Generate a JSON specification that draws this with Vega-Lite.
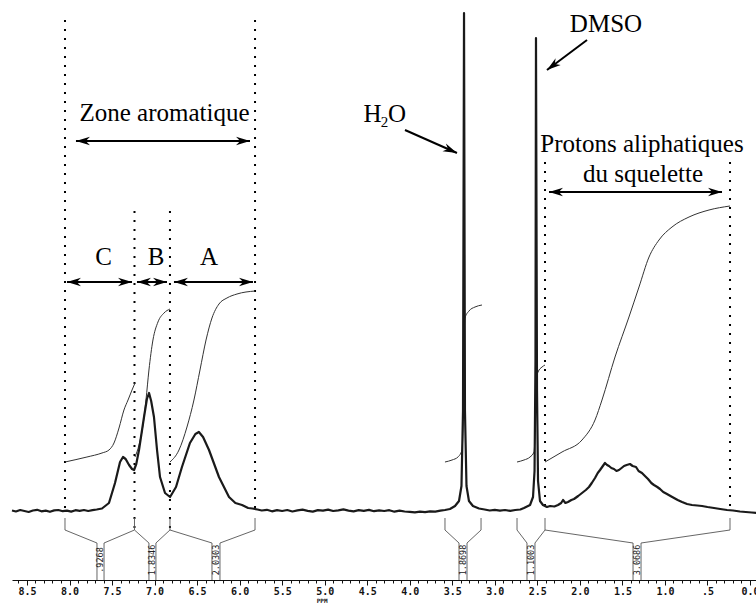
{
  "$schema": "https://vega.github.io/schema/vega-lite/v6.json",
  "width": 746,
  "height": 580,
  "padding": {"left": 10, "top": 0, "right": 0, "bottom": 0},
  "background": "white",
  "config": {"view": {"stroke": null}},
  "datasets": {
    "spectrum": [
      {"x": 8.676, "y": 0.5}, {"x": 8.63, "y": -0.5}, {"x": 8.58, "y": 1.0}, {"x": 8.53, "y": 0.0}, {"x": 8.48, "y": -1.0},
      {"x": 8.43, "y": 0.5}, {"x": 8.38, "y": 1.2}, {"x": 8.33, "y": -0.3}, {"x": 8.28, "y": 0.4}, {"x": 8.23, "y": -0.8},
      {"x": 8.18, "y": 0.6}, {"x": 8.13, "y": 1.0}, {"x": 8.08, "y": -0.2}, {"x": 8.03, "y": 0.3}, {"x": 7.98, "y": -0.6},
      {"x": 7.93, "y": 0.8}, {"x": 7.88, "y": 0.2}, {"x": 7.83, "y": 1.0}, {"x": 7.78, "y": 0.0}, {"x": 7.73, "y": 0.8},
      {"x": 7.68, "y": 1.5}, {"x": 7.618, "y": 2.5}, {"x": 7.536, "y": 8}, {"x": 7.465, "y": 28}, {"x": 7.406, "y": 49},
      {"x": 7.371, "y": 54}, {"x": 7.34, "y": 52}, {"x": 7.3, "y": 46}, {"x": 7.265, "y": 42}, {"x": 7.241, "y": 41},
      {"x": 7.215, "y": 47}, {"x": 7.183, "y": 61}, {"x": 7.124, "y": 94}, {"x": 7.09, "y": 112}, {"x": 7.065, "y": 118},
      {"x": 7.04, "y": 110}, {"x": 7.007, "y": 94}, {"x": 6.971, "y": 61}, {"x": 6.936, "y": 34}, {"x": 6.877, "y": 18},
      {"x": 6.818, "y": 14}, {"x": 6.748, "y": 24}, {"x": 6.678, "y": 44}, {"x": 6.584, "y": 68}, {"x": 6.52, "y": 77},
      {"x": 6.479, "y": 79}, {"x": 6.43, "y": 74}, {"x": 6.36, "y": 61}, {"x": 6.243, "y": 34}, {"x": 6.125, "y": 14},
      {"x": 6.05, "y": 8}, {"x": 5.972, "y": 6}, {"x": 5.9, "y": 3}, {"x": 5.85, "y": 2.5}, {"x": 5.79, "y": 1.5},
      {"x": 5.74, "y": 0.5}, {"x": 5.68, "y": 1.2}, {"x": 5.62, "y": -0.3}, {"x": 5.56, "y": 0.8}, {"x": 5.5, "y": 0.0},
      {"x": 5.44, "y": 1.0}, {"x": 5.38, "y": -0.5}, {"x": 5.32, "y": 0.6}, {"x": 5.26, "y": 1.3}, {"x": 5.2, "y": 0.2},
      {"x": 5.14, "y": -0.6}, {"x": 5.08, "y": 0.9}, {"x": 5.02, "y": 0.3}, {"x": 4.96, "y": 1.4}, {"x": 4.9, "y": 0.0},
      {"x": 4.84, "y": 0.7}, {"x": 4.78, "y": 1.6}, {"x": 4.72, "y": 0.4}, {"x": 4.66, "y": -0.4}, {"x": 4.6, "y": 0.9},
      {"x": 4.54, "y": 0.2}, {"x": 4.48, "y": 1.1}, {"x": 4.42, "y": -0.2}, {"x": 4.36, "y": 0.6}, {"x": 4.3, "y": 0.0},
      {"x": 4.24, "y": 0.8}, {"x": 4.18, "y": -0.7}, {"x": 4.12, "y": 0.3}, {"x": 4.06, "y": -0.5}, {"x": 4.0, "y": -0.8},
      {"x": 3.94, "y": -1.4}, {"x": 3.88, "y": -0.6}, {"x": 3.82, "y": -1.2}, {"x": 3.76, "y": -0.3}, {"x": 3.7, "y": -0.6},
      {"x": 3.64, "y": 0.3}, {"x": 3.586, "y": 1}, {"x": 3.527, "y": 2}, {"x": 3.468, "y": 5}, {"x": 3.421, "y": 10},
      {"x": 3.392, "y": 25}, {"x": 3.374, "y": 100}, {"x": 3.362, "y": 498}, {"x": 3.351, "y": 100}, {"x": 3.333, "y": 25},
      {"x": 3.304, "y": 10}, {"x": 3.257, "y": 5}, {"x": 3.186, "y": 2.5}, {"x": 3.12, "y": 1.5}, {"x": 3.06, "y": 0.5},
      {"x": 3.0, "y": 1.2}, {"x": 2.94, "y": 0.4}, {"x": 2.88, "y": 1.0}, {"x": 2.82, "y": 0.2}, {"x": 2.76, "y": 1.0},
      {"x": 2.7, "y": 1.5}, {"x": 2.657, "y": 3}, {"x": 2.586, "y": 6}, {"x": 2.551, "y": 14}, {"x": 2.533, "y": 40},
      {"x": 2.522, "y": 150}, {"x": 2.516, "y": 473}, {"x": 2.504, "y": 120}, {"x": 2.492, "y": 30}, {"x": 2.469, "y": 10},
      {"x": 2.434, "y": 6}, {"x": 2.387, "y": 4}, {"x": 2.35, "y": 5}, {"x": 2.3, "y": 4.5}, {"x": 2.257, "y": 6},
      {"x": 2.22, "y": 8}, {"x": 2.198, "y": 11}, {"x": 2.17, "y": 8}, {"x": 2.14, "y": 9}, {"x": 2.1, "y": 11},
      {"x": 2.069, "y": 12}, {"x": 2.02, "y": 15}, {"x": 1.975, "y": 18}, {"x": 1.93, "y": 21}, {"x": 1.893, "y": 24},
      {"x": 1.86, "y": 28}, {"x": 1.822, "y": 33}, {"x": 1.79, "y": 38}, {"x": 1.763, "y": 41}, {"x": 1.73, "y": 45},
      {"x": 1.705, "y": 48}, {"x": 1.68, "y": 46}, {"x": 1.658, "y": 45}, {"x": 1.63, "y": 43}, {"x": 1.599, "y": 42},
      {"x": 1.57, "y": 40}, {"x": 1.54, "y": 41}, {"x": 1.51, "y": 43}, {"x": 1.481, "y": 45}, {"x": 1.45, "y": 46},
      {"x": 1.411, "y": 47}, {"x": 1.38, "y": 45}, {"x": 1.34, "y": 44}, {"x": 1.31, "y": 40}, {"x": 1.27, "y": 38},
      {"x": 1.235, "y": 35}, {"x": 1.199, "y": 32}, {"x": 1.16, "y": 28}, {"x": 1.129, "y": 26}, {"x": 1.09, "y": 24},
      {"x": 1.058, "y": 22}, {"x": 1.02, "y": 19}, {"x": 0.976, "y": 17}, {"x": 0.935, "y": 15}, {"x": 0.893, "y": 13},
      {"x": 0.85, "y": 11}, {"x": 0.799, "y": 9}, {"x": 0.74, "y": 7}, {"x": 0.682, "y": 6}, {"x": 0.62, "y": 5.5},
      {"x": 0.564, "y": 5}, {"x": 0.5, "y": 4}, {"x": 0.423, "y": 3}, {"x": 0.35, "y": 2}, {"x": 0.27, "y": 1},
      {"x": 0.2, "y": 0.5}, {"x": 0.118, "y": -0.5}, {"x": 0.05, "y": -1}, {"x": -0.02, "y": -1.5}, {"x": -0.094, "y": -2}
    ],
    "integrals": [
      {"id": "C", "x": 8.053, "y": 49}, {"id": "C", "x": 7.795, "y": 54}, {"id": "C", "x": 7.618, "y": 58}, {"id": "C", "x": 7.536, "y": 61},
      {"id": "C", "x": 7.477, "y": 68}, {"id": "C", "x": 7.418, "y": 83}, {"id": "C", "x": 7.36, "y": 101}, {"id": "C", "x": 7.312, "y": 111},
      {"id": "C", "x": 7.265, "y": 121}, {"id": "C", "x": 7.23, "y": 128},
      {"id": "B", "x": 7.23, "y": 54}, {"id": "B", "x": 7.183, "y": 66}, {"id": "B", "x": 7.136, "y": 86}, {"id": "B", "x": 7.101, "y": 111},
      {"id": "B", "x": 7.066, "y": 141}, {"id": "B", "x": 7.019, "y": 171}, {"id": "B", "x": 6.96, "y": 189}, {"id": "B", "x": 6.889, "y": 198},
      {"id": "B", "x": 6.819, "y": 202},
      {"id": "A", "x": 6.819, "y": 49}, {"id": "A", "x": 6.713, "y": 61}, {"id": "A", "x": 6.619, "y": 84}, {"id": "A", "x": 6.537, "y": 111},
      {"id": "A", "x": 6.466, "y": 141}, {"id": "A", "x": 6.395, "y": 171}, {"id": "A", "x": 6.325, "y": 193}, {"id": "A", "x": 6.243, "y": 207},
      {"id": "A", "x": 6.149, "y": 213}, {"id": "A", "x": 6.031, "y": 217}, {"id": "A", "x": 5.819, "y": 220},
      {"id": "W", "x": 3.586, "y": 49}, {"id": "W", "x": 3.503, "y": 51}, {"id": "W", "x": 3.433, "y": 54}, {"id": "W", "x": 3.386, "y": 61},
      {"id": "W", "x": 3.368, "y": 111}, {"id": "W", "x": 3.362, "y": 161}, {"id": "W", "x": 3.351, "y": 193}, {"id": "W", "x": 3.304, "y": 200},
      {"id": "W", "x": 3.233, "y": 204}, {"id": "W", "x": 3.151, "y": 206},
      {"id": "D", "x": 2.739, "y": 49}, {"id": "D", "x": 2.657, "y": 51}, {"id": "D", "x": 2.586, "y": 54}, {"id": "D", "x": 2.539, "y": 59},
      {"id": "D", "x": 2.522, "y": 91}, {"id": "D", "x": 2.51, "y": 131}, {"id": "D", "x": 2.492, "y": 139}, {"id": "D", "x": 2.445, "y": 144},
      {"id": "D", "x": 2.41, "y": 146},
      {"id": "L", "x": 2.41, "y": 49}, {"id": "L", "x": 2.21, "y": 59}, {"id": "L", "x": 1.975, "y": 71}, {"id": "L", "x": 1.822, "y": 91},
      {"id": "L", "x": 1.74, "y": 111}, {"id": "L", "x": 1.587, "y": 154}, {"id": "L", "x": 1.423, "y": 194}, {"id": "L", "x": 1.305, "y": 224},
      {"id": "L", "x": 1.187, "y": 254}, {"id": "L", "x": 1.07, "y": 271}, {"id": "L", "x": 0.917, "y": 284}, {"id": "L", "x": 0.717, "y": 294},
      {"id": "L", "x": 0.482, "y": 301}, {"id": "L", "x": 0.235, "y": 305}
    ],
    "brackets": [
      {"x": 8.053, "y": -7, "x2": 8.053, "y2": -19}, {"x": 8.053, "y": -19, "x2": 7.677, "y2": -32}, {"x": 7.677, "y": -32, "x2": 7.677, "y2": -69},
      {"x": 7.236, "y": -7, "x2": 7.236, "y2": -19}, {"x": 7.236, "y": -19, "x2": 7.594, "y2": -32}, {"x": 7.594, "y": -32, "x2": 7.594, "y2": -69},
      {"x": 7.236, "y": -19, "x2": 7.066, "y2": -32}, {"x": 7.066, "y": -32, "x2": 7.066, "y2": -69},
      {"x": 6.819, "y": -7, "x2": 6.819, "y2": -19}, {"x": 6.819, "y": -19, "x2": 6.984, "y2": -32}, {"x": 6.984, "y": -32, "x2": 6.984, "y2": -69},
      {"x": 6.819, "y": -19, "x2": 6.325, "y2": -32}, {"x": 6.325, "y": -32, "x2": 6.325, "y2": -69},
      {"x": 5.819, "y": -7, "x2": 5.819, "y2": -19}, {"x": 5.819, "y": -19, "x2": 6.231, "y2": -32}, {"x": 6.231, "y": -32, "x2": 6.231, "y2": -69},
      {"x": 3.586, "y": -7, "x2": 3.586, "y2": -19}, {"x": 3.586, "y": -19, "x2": 3.421, "y2": -32}, {"x": 3.421, "y": -32, "x2": 3.421, "y2": -69},
      {"x": 3.162, "y": -7, "x2": 3.162, "y2": -19}, {"x": 3.162, "y": -19, "x2": 3.327, "y2": -32}, {"x": 3.327, "y": -32, "x2": 3.327, "y2": -69},
      {"x": 2.739, "y": -7, "x2": 2.739, "y2": -19}, {"x": 2.739, "y": -19, "x2": 2.622, "y2": -32}, {"x": 2.622, "y": -32, "x2": 2.622, "y2": -69},
      {"x": 2.41, "y": -7, "x2": 2.41, "y2": -19}, {"x": 2.41, "y": -19, "x2": 2.528, "y2": -32}, {"x": 2.528, "y": -32, "x2": 2.528, "y2": -69},
      {"x": 2.41, "y": -19, "x2": 1.375, "y2": -32}, {"x": 1.375, "y": -32, "x2": 1.375, "y2": -69},
      {"x": 0.235, "y": -7, "x2": 0.235, "y2": -19}, {"x": 0.235, "y": -19, "x2": 1.281, "y2": -32}, {"x": 1.281, "y": -32, "x2": 1.281, "y2": -69}
    ],
    "integralValues": [
      {"t": ".9268", "x": 7.636, "y": -49}, {"t": "1.8346", "x": 7.025, "y": -49}, {"t": "2.0303", "x": 6.278, "y": -49},
      {"t": "1.8698", "x": 3.374, "y": -49}, {"t": "1.1003", "x": 2.575, "y": -49}, {"t": "3.0686", "x": 1.328, "y": -49}
    ],
    "dotted": [
      {"x": 8.053, "y": 491, "y2": 0}, {"x": 5.819, "y": 491, "y2": 0},
      {"x": 7.236, "y": 300, "y2": -19}, {"x": 6.819, "y": 300, "y2": -19},
      {"x": 2.41, "y": 349, "y2": 2}, {"x": 0.235, "y": 349, "y2": 2}
    ],
    "shafts": [
      {"x": 7.924, "y": 370, "x2": 5.878, "y2": 370},
      {"x": 8.03, "y": 229, "x2": 7.265, "y2": 229},
      {"x": 7.207, "y": 229, "x2": 6.854, "y2": 229},
      {"x": 6.772, "y": 229, "x2": 5.843, "y2": 229},
      {"x": 2.363, "y": 319, "x2": 0.329, "y2": 319},
      {"x": 4.056, "y": 381, "x2": 3.445, "y2": 358},
      {"x": 1.916, "y": 471, "x2": 2.387, "y2": 441}
    ],
    "headsRight": [
      {"x": 5.878, "y": 370}, {"x": 7.265, "y": 229}, {"x": 6.854, "y": 229}, {"x": 5.843, "y": 229}, {"x": 0.329, "y": 319}
    ],
    "headsLeft": [
      {"x": 7.924, "y": 370}, {"x": 8.03, "y": 229}, {"x": 7.207, "y": 229}, {"x": 6.772, "y": 229}, {"x": 2.363, "y": 319}
    ],
    "labels": [
      {"t": "Zone aromatique", "x": 6.883, "y": 390},
      {"t": "C", "x": 7.6, "y": 246},
      {"t": "B", "x": 6.983, "y": 246},
      {"t": "A", "x": 6.36, "y": 246},
      {"t": "H", "x": 4.438, "y": 389},
      {"t": "O", "x": 4.15, "y": 389},
      {"t": "DMSO", "x": 1.693, "y": 479},
      {"t": "Protons aliphatiques", "x": 1.27, "y": 359},
      {"t": "du squelette", "x": 1.258, "y": 329}
    ]
  },
  "encoding": {
    "x": {
      "field": "x", "type": "quantitative",
      "scale": {"domain": [8.676, -0.094], "nice": false, "zero": false},
      "axis": {
        "values": [0, 0.1, 0.2, 0.3, 0.4, 0.5, 0.6, 0.7, 0.8, 0.9, 1.0, 1.1, 1.2, 1.3, 1.4, 1.5, 1.6, 1.7, 1.8, 1.9, 2.0, 2.1, 2.2, 2.3, 2.4, 2.5, 2.6, 2.7, 2.8, 2.9, 3.0, 3.1, 3.2, 3.3, 3.4, 3.5, 3.6, 3.7, 3.8, 3.9, 4.0, 4.1, 4.2, 4.3, 4.4, 4.5, 4.6, 4.7, 4.8, 4.9, 5.0, 5.1, 5.2, 5.3, 5.4, 5.5, 5.6, 5.7, 5.8, 5.9, 6.0, 6.1, 6.2, 6.3, 6.4, 6.5, 6.6, 6.7, 6.8, 6.9, 7.0, 7.1, 7.2, 7.3, 7.4, 7.5, 7.6, 7.7, 7.8, 7.9, 8.0, 8.1, 8.2, 8.3, 8.4, 8.5, 8.6],
        "labelExpr": "abs(datum.value*2-round(datum.value*2))<0.01 ? (datum.value==0.5 ? '.5' : format(datum.value, '.1f')) : ''",
        "tickSize": {"condition": {"test": "abs(datum.value*2-round(datum.value*2))<0.01", "value": 5}, "value": 3},
        "grid": false,
        "title": null,
        "labelFont": "DejaVu Sans Mono",
        "labelFontSize": 10,
        "labelFontWeight": "bold",
        "labelColor": "#111",
        "domainColor": "#111",
        "tickColor": "#111",
        "labelPadding": 1,
        "labelFlush": false,
        "labelOverlap": false,
        "labelBound": false
      }
    },
    "y": {
      "field": "y", "type": "quantitative",
      "scale": {"domain": [-69, 511], "nice": false, "zero": false},
      "axis": null
    }
  },
  "layer": [
    {
      "data": {"name": "dotted"},
      "mark": {"type": "rule", "color": "#000", "strokeWidth": 2, "strokeDash": [2, 7]},
      "encoding": {"y2": {"field": "y2"}}
    },
    {
      "data": {"name": "brackets"},
      "mark": {"type": "rule", "color": "#555", "strokeWidth": 0.9},
      "encoding": {"x2": {"field": "x2"}, "y2": {"field": "y2"}}
    },
    {
      "data": {"name": "integrals"},
      "mark": {"type": "line", "color": "#333", "strokeWidth": 1, "interpolate": "monotone"},
      "encoding": {"detail": {"field": "id"}}
    },
    {
      "data": {"name": "spectrum"},
      "mark": {"type": "line", "color": "#1a1a1a", "strokeWidth": 2.2, "strokeJoin": "round"}
    },
    {
      "data": {"name": "integralValues"},
      "mark": {"type": "text", "font": "DejaVu Sans Mono", "fontSize": 8.5, "angle": 270, "align": "center", "baseline": "middle", "color": "#222"},
      "encoding": {"text": {"field": "t"}}
    },
    {
      "data": {"name": "shafts"},
      "mark": {"type": "rule", "color": "#000", "strokeWidth": 2},
      "encoding": {"x2": {"field": "x2"}, "y2": {"field": "y2"}}
    },
    {
      "data": {"name": "headsRight"},
      "mark": {"type": "point", "shape": "M0,0 L-2,-0.6 L-1.4,0 L-2,0.6 Z", "size": 196, "filled": true, "color": "#000", "opacity": 1, "angle": 0}
    },
    {
      "data": {"name": "headsLeft"},
      "mark": {"type": "point", "shape": "M0,0 L-2,-0.6 L-1.4,0 L-2,0.6 Z", "size": 196, "filled": true, "color": "#000", "opacity": 1, "angle": 180}
    },
    {
      "data": {"values": [{"x": 3.445, "y": 358}]},
      "mark": {"type": "point", "shape": "M0,0 L-2,-0.6 L-1.4,0 L-2,0.6 Z", "size": 196, "filled": true, "color": "#000", "opacity": 1, "angle": 24}
    },
    {
      "data": {"values": [{"x": 2.387, "y": 441}]},
      "mark": {"type": "point", "shape": "M0,0 L-2,-0.6 L-1.4,0 L-2,0.6 Z", "size": 196, "filled": true, "color": "#000", "opacity": 1, "angle": 143}
    },
    {
      "data": {"name": "labels"},
      "mark": {"type": "text", "font": "Liberation Serif", "fontSize": 25, "align": "center", "baseline": "alphabetic", "color": "#000"},
      "encoding": {"text": {"field": "t"}}
    },
    {
      "data": {"values": [{"t": "2", "x": 4.297, "y": 384}]},
      "mark": {"type": "text", "font": "Liberation Serif", "fontSize": 15, "align": "center", "baseline": "alphabetic", "color": "#000"},
      "encoding": {"text": {"field": "t"}}
    },
    {
      "data": {"values": [{"t": "PPM", "x": 5.03, "y": -90}]},
      "mark": {"type": "text", "font": "DejaVu Sans Mono", "fontSize": 6, "fontWeight": "bold", "align": "center", "baseline": "middle", "color": "#111"},
      "encoding": {"text": {"field": "t"}}
    }
  ]
}
